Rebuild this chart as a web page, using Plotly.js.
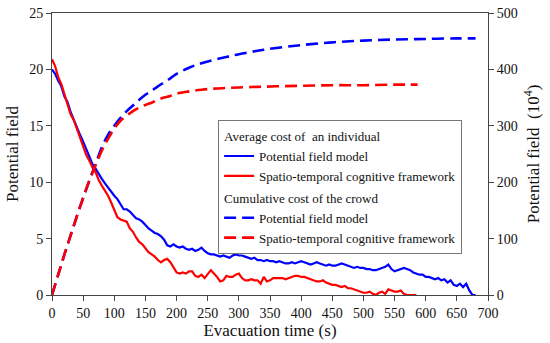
<!DOCTYPE html>
<html>
<head>
<meta charset="utf-8">
<script src="https://cdn.plot.ly/plotly-3.0.1.min.js"></script>
<style>html,body{margin:0;padding:0;background:#fff;font-family:'Liberation Serif';}#chart{width:550px;height:343px;}</style>
</head>
<body>
<div id="chart"></div>
<script>
// Average cost of an individual (left axis)
const timePF = [0,5,10,15,20,25,30,35,40,45,50,55,60,65,70,75,80,85,90,95,100,105,110,115,120,125,130,135,140,145,150,155,160,165,170,175,180,185,190,195,200,205,210,215,220,225,230,235,240,245,250,255,260,265,270,275,280,285,290,295,300,305,310,315,320,325,330,335,340,345,350,355,360,365,370,375,380,385,390,395,400,405,410,415,420,425,430,435,440,445,450,455,460,465,470,475,480,485,490,495,500,505,510,515,520,525,530,535,540,545,550,555,560,565,570,575,580,585,590,595,600,605,610,615,620,625,630,635,640,645,650,655,660,665,670,675,680];
const avgPF = [20.0,19.6,19.0,18.5,17.6,17.1,16.2,15.5,14.9,14.2,13.6,12.9,12.3,11.6,11.2,10.7,10.3,9.9,9.5,9.1,8.8,8.5,8.1,7.6,7.6,7.4,7.1,6.8,6.7,6.5,6.2,5.9,5.7,5.5,5.4,5.2,4.9,4.4,4.3,4.5,4.3,4.2,4.3,4.1,4.0,4.1,3.9,4.0,4.2,3.9,3.7,3.6,3.6,3.5,3.4,3.5,3.4,3.3,3.5,3.6,3.5,3.5,3.4,3.3,3.2,3.3,3.1,3.1,3.0,3.1,3.0,3.0,2.9,3.0,2.9,2.8,2.8,2.9,2.8,2.9,3.0,2.9,2.8,2.7,2.8,2.9,2.8,2.7,2.6,2.7,2.6,2.6,2.7,2.8,2.7,2.6,2.5,2.4,2.5,2.4,2.4,2.3,2.3,2.2,2.2,2.3,2.4,2.5,2.7,2.3,2.1,2.2,2.3,2.4,2.3,2.2,2.0,1.9,1.8,1.8,1.6,1.6,1.5,1.4,1.5,1.3,1.4,1.1,1.3,0.9,0.8,1.0,0.7,1.0,0.4,0.0,0.0];
const timeST = [0,5,10,15,20,25,30,35,40,45,50,55,60,65,70,75,80,85,90,95,100,105,110,115,120,125,130,135,140,145,150,155,160,165,170,175,180,185,190,195,200,205,210,215,220,225,230,235,240,245,250,255,260,265,270,275,280,285,290,295,300,305,310,315,320,325,330,335,340,345,350,355,360,365,370,375,380,385,390,395,400,405,410,415,420,425,430,435,440,445,450,455,460,465,470,475,480,485,490,495,500,505,510,515,520,525,530,535,540,545,550,555,560,565,570,575,580,585];
const avgST = [20.9,20.3,19.3,18.7,17.8,17.0,16.0,15.5,14.7,13.8,13.0,12.4,11.9,11.3,10.9,10.2,9.7,9.3,8.8,8.2,7.5,6.9,6.7,6.6,6.5,5.9,5.6,5.1,4.7,4.5,4.1,3.8,3.6,3.4,3.1,2.9,3.1,3.2,2.9,2.5,2.0,1.9,2.0,1.9,2.1,2.1,1.7,1.6,1.8,1.5,1.9,2.2,1.9,1.6,1.2,1.3,1.7,1.6,1.6,1.8,1.9,1.5,1.3,1.3,1.4,1.3,1.3,1.0,1.6,1.2,1.3,1.5,1.5,1.5,1.5,1.4,1.5,1.6,1.7,1.7,1.6,1.6,1.5,1.4,1.3,1.2,1.2,1.3,1.1,1.0,0.9,0.9,0.8,0.7,0.8,0.6,0.6,0.5,0.4,0.3,0.2,0.2,0.3,0.1,0.0,0.2,0.3,0.1,0.5,0.4,0.3,0.3,0.4,0.1,0.0,0.0,0.0,0.0];

// Cumulative cost of the crowd (right axis, 10^4)
const cumTimePF = [0,10,20,30,40,50,60,70,80,90,100,110,120,130,140,150,160,170,180,190,200,220,240,260,280,300,330,360,400,450,500,550,600,650,680];
const cumPF = [0,36,72,106,140,172,203,232,262,284,300,314,326,336,346,355,362,370,377,384,392,403,411,417,422,427,433,438,443,448,451,453,454,455,455];
const cumTimeST = [0,10,20,30,40,50,60,70,80,90,100,110,120,130,140,150,160,170,180,190,200,220,240,260,280,300,330,360,400,450,500,550,587];
const cumST = [0,36,72,106,140,172,203,230,256,277,295,309,318,326,332,337,341,346,350,353,357,361,364,366,367,368,369,370,371,372,372,373,373];

const groupA = 'Average cost of  an individual';
const groupB = 'Cumulative cost of the crowd';
const names = ['Potential field model', 'Spatio-temporal cognitive framework'];
const blue = '#0000ff', red = '#ff0000';
const serif = 'Liberation Serif';

function makeTraces() {
  return [
    {x: timePF, y: avgPF, type: 'scatter', mode: 'lines', name: names[0], legendgroup: 'a',
     legendgrouptitle: {text: groupA, font: {family: serif, size: 13, color: '#111'}}, line: {color: blue, width: 2.2}},
    {x: timeST, y: avgST, type: 'scatter', mode: 'lines', name: names[1], legendgroup: 'a',
     line: {color: red, width: 2.2}},
    {x: cumTimePF, y: cumPF, type: 'scatter', mode: 'lines', name: names[0], legendgroup: 'b',
     legendgrouptitle: {text: groupB, font: {family: serif, size: 13, color: '#111'}}, yaxis: 'y2',
     line: {color: blue, width: 2.6, dash: '12px,6px', shape: 'spline'}},
    {x: cumTimeST, y: cumST, type: 'scatter', mode: 'lines', name: names[1], legendgroup: 'b',
     yaxis: 'y2', line: {color: red, width: 2.6, dash: '12px,6px', shape: 'spline'}}
  ];
}

function axisBase() {
  return {showgrid: false, zeroline: false, showline: true, linecolor: '#444', linewidth: 1,
    ticks: 'outside', ticklen: 5, tickcolor: '#444', tickfont: {family: serif, size: 14, color: '#111'}};
}

function makeLayout() {
  return {
    width: 550, height: 343,
    margin: {l: 52, r: 62, t: 13, b: 48},
    paper_bgcolor: '#fff', plot_bgcolor: '#fff',
    font: {family: serif, size: 14, color: '#111'},
    showlegend: true,
    xaxis: Object.assign(axisBase(), {range: [0, 700], dtick: 50, tick0: 0, mirror: true,
      title: {text: 'Evacuation time (s)', font: {family: serif, size: 17, color: '#111'}, standoff: 0}}),
    yaxis: Object.assign(axisBase(), {range: [0, 25], dtick: 5, tick0: 0,
      title: {text: 'Potential field', font: {family: serif, size: 17, color: '#111'}, standoff: 6}}),
    yaxis2: Object.assign(axisBase(), {range: [0, 500], dtick: 100, tick0: 0, overlaying: 'y', side: 'right',
      title: {text: 'Potential field  (10<sup>4</sup>)', font: {family: serif, size: 17, color: '#111'}, standoff: 10}}),
    legend: {x: 0.381, y: 0.62, xanchor: 'left', yanchor: 'top', bgcolor: '#fff',
      bordercolor: '#777', borderwidth: 1, font: {family: serif, size: 13, color: '#111'},
      tracegroupgap: 2, traceorder: 'grouped', itemwidth: 30}
  };
}

function forceSerif() {
  document.querySelectorAll('#chart text, #chart tspan').forEach(function (el) {
    el.style.setProperty('font-family', "'Liberation Serif', serif", 'important');
  });
}

function draw() {
  Plotly.newPlot('chart', makeTraces(), makeLayout(), {displayModeBar: false, staticPlot: true});
  forceSerif();
}

draw();
if (document.fonts && document.fonts.load) {
  Promise.all([
    document.fonts.load("13px 'Liberation Serif'"),
    document.fonts.load("14px 'Liberation Serif'"),
    document.fonts.load("17px 'Liberation Serif'")
  ]).then(function () { Plotly.purge('chart'); draw(); }).catch(function () {});
}
</script>
</body>
</html>
